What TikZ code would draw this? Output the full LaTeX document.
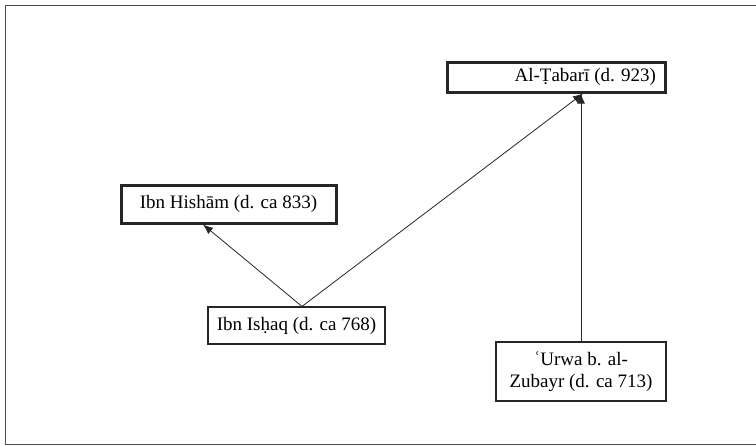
\documentclass[tikz,border=0pt]{standalone}
\usepackage{fontspec}
\setmainfont{Liberation Serif}
\usetikzlibrary{arrows.meta}

\begin{document}
\begin{tikzpicture}[x=1pt,y=-1pt,
    font=\fontsize{19}{22}\selectfont,
    heavybox/.style={draw=black!85,line width=3pt,inner sep=0pt},
    lightbox/.style={draw=black!85,line width=1.2pt,inner sep=0pt,align=center},
    link/.style={draw=black!85,line width=0.8pt,-{Latex[length=10pt,width=8pt]}}]
    \useasboundingbox (0,0) rectangle (756,447);
    \draw[black!70,line width=1.4pt] (756,5.3) -- (5.3,5.3) -- (5.3,444.3) -- (756,444.3);
    \node[heavybox,minimum height=30pt,text width=200pt,inner xsep=9pt,align=flush right] (tabari) at (556,77) {Al-Ṭabarī (d. 923)};
    \node[heavybox,minimum width=215pt,minimum height=38pt] (hisham) at (228.5,204) {Ibn Hishām (d. ca 833)};
    \node[lightbox,minimum width=177pt,minimum height=37pt] (ishaq) at (296.5,325.5) {Ibn Isḥaq (d. ca 768)};
    \node[lightbox,minimum width=170pt,minimum height=59pt] (urwa) at (581,371.5) {ʿUrwa b. al-\\Zubayr (d. ca 713)};
    \draw[link] ([xshift=5.5pt]ishaq.north) -- ([xshift=-25.5pt]hisham.south);
    \draw[link] ([xshift=5.5pt]ishaq.north) -- ([xshift=27pt]tabari.south);
    \draw[link] (urwa.north) -- (tabari.south -| urwa.north);
\end{tikzpicture}
\end{document}
